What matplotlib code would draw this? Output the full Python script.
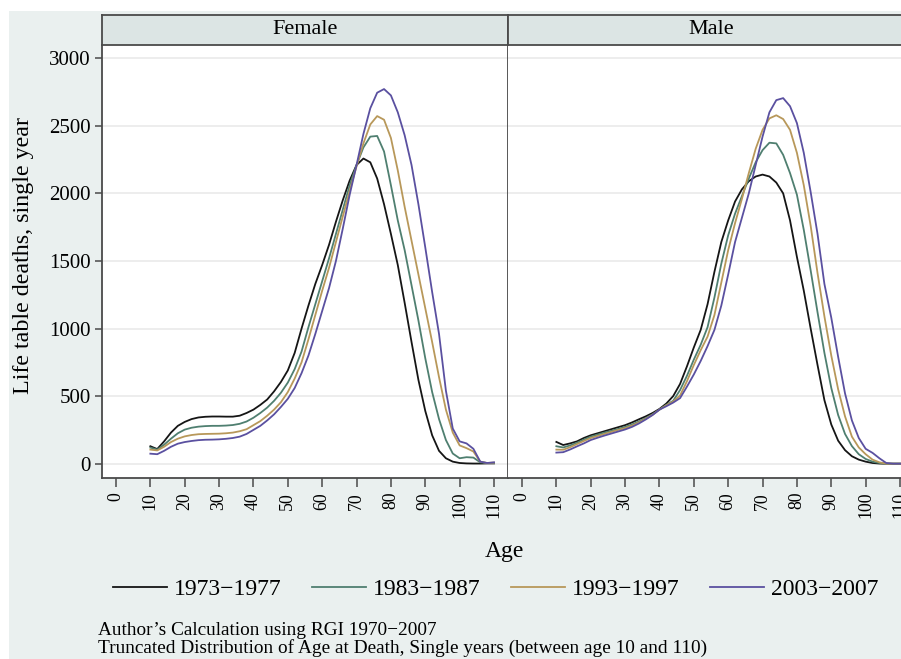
import matplotlib
matplotlib.use('Agg')
import matplotlib.pyplot as plt
from matplotlib.patches import Rectangle

plt.rcParams['font.family'] = ['Liberation Serif', 'DejaVu Serif']

# ages 10..110 every 2 years
ages = list(range(10, 111, 2))
periods = ['1973\u22121977', '1983\u22121987', '1993\u22121997', '2003\u22122007']
colors = ['#151515', '#4f7f70', '#b8985a', '#5a50a0']

female_1973 = [129, 108, 165, 230, 280, 309, 330, 342, 347, 349, 349, 348, 348, 355, 375, 400, 435, 475, 535, 605,
               690, 820, 1000, 1170, 1330, 1470, 1620, 1790, 1950, 2095, 2210, 2258, 2230, 2110, 1920, 1700, 1470, 1190, 900, 620,
               390, 210, 95, 40, 15, 5, 2, 1, 1, 2, 2]
female_1983 = [119, 104, 140, 185, 225, 252, 266, 274, 278, 280, 280, 282, 286, 295, 312, 340, 375, 415, 465, 525,
               600, 700, 830, 1010, 1180, 1350, 1520, 1700, 1880, 2060, 2210, 2340, 2420, 2425, 2310, 2060, 1800, 1580, 1320, 1060,
               780, 530, 330, 175, 75, 40, 48, 45, 10, 5, 5]
female_1993 = [104, 98, 125, 160, 185, 202, 212, 218, 220, 221, 222, 225, 230, 240, 255, 285, 315, 355, 400, 455,
               530, 630, 750, 920, 1100, 1280, 1450, 1640, 1830, 2020, 2200, 2370, 2510, 2572, 2545, 2410, 2170, 1900, 1650, 1400,
               1150, 900, 640, 400, 230, 135, 115, 90, 15, 5, 8]
female_2003 = [74, 70, 95, 125, 148, 160, 168, 174, 177, 178, 180, 184, 190, 200, 220, 250, 280, 320, 365, 420,
               480, 560, 670, 800, 960, 1130, 1300, 1500, 1740, 1990, 2210, 2440, 2630, 2745, 2772, 2725, 2600, 2430, 2210, 1920,
               1600, 1270, 960, 540, 260, 165, 150, 110, 15, 5, 10]

male_1973 = [161, 138, 150, 165, 190, 210, 225, 240, 255, 270, 285, 305, 328, 350, 375, 405, 445, 500, 590, 720,
             860, 990, 1180, 1420, 1640, 1800, 1940, 2030, 2090, 2125, 2139, 2125, 2080, 2000, 1800, 1530, 1280, 1000, 730, 470,
             290, 170, 100, 55, 30, 15, 5, 1, 0, 0, 0]
male_1983 = [129, 120, 135, 155, 178, 200, 215, 230, 243, 257, 272, 290, 312, 337, 365, 400, 435, 465, 545, 650,
             770, 880, 1010, 1230, 1480, 1690, 1850, 1980, 2110, 2230, 2320, 2375, 2370, 2285, 2150, 1990, 1730, 1430, 1120, 820,
             560, 360, 220, 130, 70, 35, 15, 5, 0, 0, 0]
male_1993 = [104, 103, 122, 145, 168, 190, 205, 220, 235, 250, 263, 282, 305, 332, 362, 400, 432, 460, 505, 610,
             730, 840, 940, 1100, 1340, 1580, 1780, 1960, 2150, 2330, 2470, 2555, 2578, 2550, 2470, 2300, 2060, 1760, 1410, 1090,
             800, 550, 350, 200, 120, 70, 30, 10, 0, 0, 0]
male_2003 = [82, 85, 105, 128, 150, 175, 192, 208, 223, 238, 253, 272, 297, 327, 360, 400, 425, 452, 485, 570,
             660, 760, 870, 990, 1170, 1400, 1640, 1820, 2000, 2210, 2420, 2600, 2690, 2705, 2645, 2520, 2300, 2010, 1700, 1330,
             1080, 790, 520, 320, 190, 110, 80, 40, 5, 0, 0]

panels = {'Female': [female_1973, female_1983, female_1993, female_2003],
          'Male': [male_1973, male_1983, male_1993, male_2003]}

W, H = 901, 659
fig = plt.figure(figsize=(W / 100, H / 100), dpi=100, facecolor='white')
fig.patches.append(Rectangle((9 / W, 0), 1, 1 - 11 / H, transform=fig.transFigure,
                             facecolor='#eaf0ef', edgecolor='none', zorder=-10))

edge = '#4a4a4a'
lefts = [102, 508]
pw = 406
top, bottom = 45, 478
for i, (name, series) in enumerate(panels.items()):
    x0 = lefts[i]
    ax = fig.add_axes([x0 / W, 1 - bottom / H, pw / W, (bottom - top) / H])
    ax.set_facecolor('white')
    for vals, lab, c in zip(series, periods, colors):
        ax.plot(ages, vals, color=c, lw=1.3, label=lab, solid_joinstyle='round')
    ax.set_xlim(-4.07, 114.07)
    ax.set_ylim(-106, 3098)
    ax.set_xticks(range(0, 111, 10))
    ax.set_yticks(range(0, 3001, 500))
    ax.yaxis.grid(True, color='#ececec', lw=1.3)
    ax.set_axisbelow(True)
    ax.tick_params(axis='x', length=6.5, width=1.1, color=edge, labelsize=12.8, pad=3.5, labelrotation=90)
    ax.tick_params(axis='y', length=5, width=1.1, color=edge, labelsize=15, pad=3)
    for s in ax.spines.values():
        s.set_color(edge)
        s.set_linewidth(1.3)
    ax.spines['top'].set_visible(False)
    if i == 0:
        ax1 = ax
    else:
        ax.spines['left'].set_visible(False)
        ax.spines['right'].set_visible(False)
        ax.tick_params(axis='y', left=False, labelleft=False)

    sx = fig.add_axes([x0 / W, 1 - top / H, pw / W, 30 / H])
    sx.set_facecolor('#dce5e4')
    sx.set_xticks([])
    sx.set_yticks([])
    for s in sx.spines.values():
        s.set_color(edge)
        s.set_linewidth(1.3)
    sx.text(0.5, 0.5, name, transform=sx.transAxes, ha='center', va='center', fontsize=16)

fig.text(24 / W, 1 - 255 / H, 'Life table deaths, single year', rotation=90,
         ha='center', va='center', fontsize=17.3)
fig.text(504 / W, 1 - 557 / H, 'Age', ha='center', va='baseline', fontsize=17)

handles, labels = ax1.get_legend_handles_labels()
fig.legend(handles, labels, loc='center', bbox_to_anchor=(495.5 / W, 1 - 589 / H), ncol=4,
           frameon=False, fontsize=17, handlelength=2.3, handletextpad=0.3, columnspacing=1.27)

fig.text(98 / W, 1 - 635 / H, 'Author\u2019s Calculation using RGI 1970\u22122007', fontsize=13.9, va='baseline')
fig.text(98 / W, 1 - 652.5 / H, 'Truncated Distribution of Age at Death, Single years (between age 10 and 110)',
         fontsize=13.9, va='baseline')

fig.savefig('out.png', dpi=100, facecolor=fig.get_facecolor())
